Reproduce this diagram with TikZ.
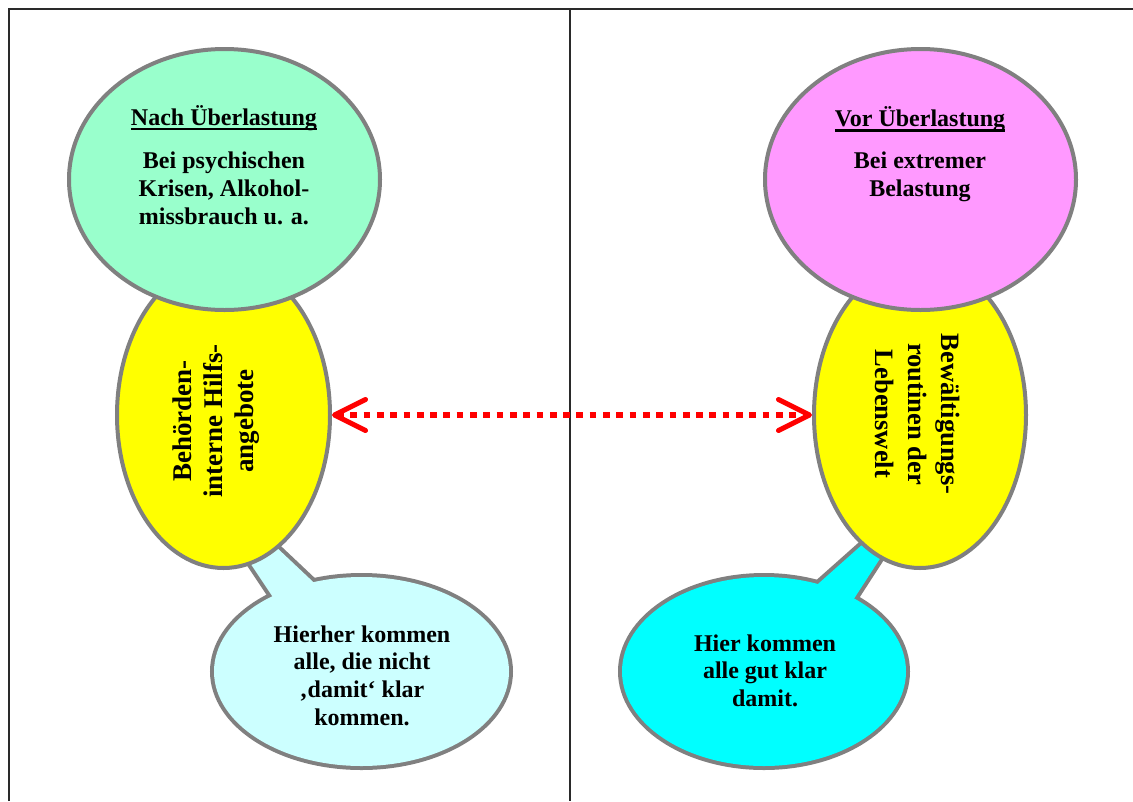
\documentclass[tikz,border=0pt]{standalone}
\usepackage{fontspec}
\setmainfont{Liberation Serif}
\usetikzlibrary{shapes.geometric,arrows.meta}

\definecolor{mint}{HTML}{99FFCC}
\definecolor{orchid}{HTML}{FF99FF}
\definecolor{lemon}{HTML}{FFFF00}
\definecolor{icecyan}{HTML}{CCFFFF}
\definecolor{aqua}{HTML}{00FFFF}
\definecolor{rim}{HTML}{808080}
\definecolor{rulegray}{HTML}{2A2A2A}

% heading underline: a firm bar just below the baseline
\newcommand{\headul}[1]{\setbox0\hbox{#1}\rlap{\vrule height -2.6pt depth 5pt width \wd0}\box0}

\begin{document}
\begin{tikzpicture}[x=1pt,y=-1pt,
  oval/.style={ellipse, draw=rim, line width=4pt, inner sep=0pt},
  bubble/.style={ellipse, draw=rim, line width=8pt, inner sep=0pt},
  tailline/.style={draw=rim, line width=8pt},
  txt/.style={anchor=base, inner sep=0pt, font=\bfseries},
  frameline/.style={draw=rulegray, line width=2pt},
  dotlink/.style={draw=red, line width=6.5pt, dash pattern=on 6.7pt off 6.6pt,
    >={Straight Barb[length=31pt,width=31pt,line width=5pt,round]}, <->}
]
\useasboundingbox (0,0) rectangle (1133,801);

% table rules
\coordinate (tl) at (8.5,8.5);
\coordinate (tr) at (1133,8.5);
\coordinate (bl) at (8.5,801);
\coordinate (mt) at (570,8.5);
\coordinate (mb) at (570,801);
\draw[frameline] (bl) -- (tl) -- (tr);
\draw[frameline] (mt) -- (mb);

% speech bubbles with their tails (outline drawn wide, then filled over)
\coordinate (ltA) at (177.3,453.8);
\coordinate (ltB) at (291.3,624.8);
\coordinate (ltC) at (349.2,615.9);
\coordinate (rtA) at (925.5,488.4);
\coordinate (rtB) at (770.7,626);
\coordinate (rtC) at (830.6,634.8);

\node[bubble, fill=icecyan, minimum width=295pt, minimum height=189pt] (lb) at (361.5,671.5) {};
\node[bubble, fill=aqua, minimum width=284pt, minimum height=189pt] (rb) at (764,671.5) {};
\draw[tailline] (ltA) -- (ltB) -- (ltC) -- cycle;
\draw[tailline] (rtA) -- (rtB) -- (rtC) -- cycle;
\fill[icecyan] (ltA) -- (ltB) -- (ltC) -- cycle;
\fill[icecyan] (lb.center) ellipse [x radius=147.5pt, y radius=94.5pt];
\fill[aqua] (rtA) -- (rtB) -- (rtC) -- cycle;
\fill[aqua] (rb.center) ellipse [x radius=142pt, y radius=94.5pt];

% yellow middle ovals
\node[oval, fill=lemon, minimum width=213pt, minimum height=306pt] (ly) at (223.5,415) {};
\node[oval, fill=lemon, minimum width=212pt, minimum height=306pt] (ry) at (920,415) {};

% top ovals
\node[oval, fill=mint, minimum width=311pt, minimum height=261pt] (lt) at (224.5,179.5) {};
\node[oval, fill=orchid, minimum width=311pt, minimum height=261pt] (rt) at (920.5,179.5) {};

% texts
\node[txt] (ltx) at (224,125) {\fontsize{24}{28.3}\selectfont
  \begin{tabular}[t]{@{}c@{}}\headul{Nach Überlastung}\\[14.7pt]
  Bei psychischen\\ Krisen, Alkohol-\\ missbrauch u. a.\end{tabular}};
\node[txt] (rtx) at (920,126.7) {\fontsize{24}{28.3}\selectfont
  \begin{tabular}[t]{@{}c@{}}\headul{Vor Überlastung}\\[13.3pt]
  Bei extremer\\ Belastung\end{tabular}};
\node[txt, rotate=90] (lyx) at (191.7,421) {\fontsize{27}{30.7}\selectfont
  \begin{tabular}[t]{@{}c@{}}Behörden-\\ interne Hilfs-\\ angebote\end{tabular}};
\node[txt, rotate=-90] (ryx) at (941.7,414) {\fontsize{26.5}{33}\selectfont
  \begin{tabular}[t]{@{}c@{}}Bewältigungs-\\ routinen der\\ Lebenswelt\end{tabular}};
\node[txt] (lbx) at (362,642) {\fontsize{24}{27.7}\selectfont
  \begin{tabular}[t]{@{}c@{}}Hierher kommen\\ alle, die nicht\\ ‚damit‘ klar\\ kommen.\end{tabular}};
\node[txt] (rbx) at (765,651) {\fontsize{24}{27.5}\selectfont
  \begin{tabular}[t]{@{}c@{}}Hier kommen\\ alle gut klar\\ damit.\end{tabular}};

% dotted double arrow between the yellow ovals
\draw[dotlink] (ly.east) -- (ry.west);
\end{tikzpicture}
\end{document}
